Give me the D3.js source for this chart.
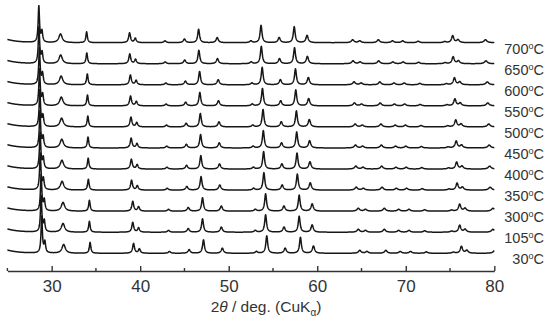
<!DOCTYPE html>
<html>
<head>
<meta charset="utf-8">
<script src="https://cdn.jsdelivr.net/npm/d3@7"></script>
<style>
  body { margin: 0; background: #fff; }
  text { font-family: "Liberation Sans", Arial, sans-serif; fill: #333; }
</style>
</head>
<body>
<div id="xrd"></div>
<script>
// temperatures, bottom trace first
var temps = ["30", "105", "300", "350", "400", "450", "500", "550", "600", "650", "700"];
// peak shift (deg 2theta, measured at 76 deg) relative to the 700 C pattern
var shifts = [1.0, 0.8, 0.8, 0.5, 0.45, 0.4, 0.35, 0.25, 0.2, 0.05, 0.0];
// reflections of the 700 C pattern: position, relative intensity, FWHM
var peakPos = [28.55, 28.9, 31.0, 33.95, 38.8, 39.45, 42.8, 45.0, 46.6, 48.7, 52.5, 53.65, 55.7,
  57.4, 58.85, 64.0, 64.8, 66.9, 68.5, 69.65, 71.4, 74.4, 75.3, 75.9, 79.0];
var peakInt = [100, 30, 24, 30, 27, 12, 5, 10, 37, 14, 5, 48, 14,
  44, 20, 8, 5, 8, 5, 5, 4, 3, 19, 8, 8];
var peakFwhm = [0.18, 0.2, 0.45, 0.2, 0.25, 0.25, 0.3, 0.3, 0.25, 0.3, 0.3, 0.25, 0.3,
  0.25, 0.3, 0.35, 0.35, 0.35, 0.35, 0.35, 0.35, 0.35, 0.3, 0.35, 0.4];
var xTicks = [30, 40, 50, 60, 70, 80];
var xMinor = [25, 35, 45, 55, 65, 75];

var w = 550, h = 321;
var offset = 58; // vertical offset between patterns (intensity units)

var svg = d3.select("#xrd").append("svg").attr("width", w).attr("height", h);

var x = d3.scaleLinear().domain([25, 80]).range([7.4, 494.3]);
var y = d3.scaleLinear().domain([0, offset * 10]).range([253.3, 42.7]);

// build a pattern from the reflection table
function pattern(k) {
  var s = shifts[k] / Math.tan(38 * Math.PI / 180);
  var pts = [];
  for (var t = 25; t <= 80.0001; t += 0.02) {
    var v = 9 * Math.exp(-(t - 25) / 1.3);
    for (var j = 0; j < peakPos.length; j++) {
      var p = peakPos[j] + s * Math.tan(peakPos[j] / 2 * Math.PI / 180);
      var g = peakFwhm[j] / 2;
      v += peakInt[j] * g * g / ((t - p) * (t - p) + g * g);
    }
    pts.push([t, v + k * offset]);
  }
  return pts;
}

var line = d3.line().x(d => x(d[0])).y(d => y(d[1]));

svg.append("g").selectAll("path")
  .data(temps)
  .enter()
  .append("path")
  .attr("d", (d, i) => line(pattern(i)))
  .attr("fill", "none")
  .attr("stroke", "#161616")
  .attr("stroke-width", 1.5)
  .attr("stroke-linejoin", "round");

// temperature labels
var lab = svg.append("g").selectAll("text")
  .data(temps)
  .enter()
  .append("text")
  .attr("x", 544)
  .attr("y", (d, i) => y(i * offset) + 11)
  .attr("text-anchor", "end")
  .style("font-size", "14.5px");
lab.append("tspan").text(d => d);
lab.append("tspan").attr("dy", -5).style("font-size", "9px").text("o");
lab.append("tspan").attr("dy", 5).text("C");

// x axis, ticks pointing inward
var axisY = 271;
var ax = svg.append("g").attr("transform", `translate(0,${axisY})`)
  .call(d3.axisBottom(x).tickValues(xTicks).tickSizeInner(-5).tickSizeOuter(0).tickPadding(9));
ax.select(".domain").attr("stroke", "#333").attr("stroke-width", 1.4);
ax.selectAll(".tick line").attr("stroke", "#333").attr("stroke-width", 1.4);
ax.selectAll(".tick text").style("font-size", "17px").style("font-family", "Liberation Sans, Arial, sans-serif").attr("fill", "#333");

ax.selectAll(".minor")
  .data(xMinor)
  .enter()
  .append("line")
  .attr("class", "minor")
  .attr("x1", d => x(d)).attr("x2", d => x(d))
  .attr("y1", 0).attr("y2", -3)
  .attr("stroke", "#333").attr("stroke-width", 1.4);

// axis title
var title = svg.append("text")
  .attr("x", 266)
  .attr("y", 312)
  .attr("text-anchor", "middle")
  .style("font-size", "15.5px");
title.append("tspan").text("2");
title.append("tspan").style("font-style", "italic").text("θ");
title.append("tspan").text(" / deg. (CuK");
title.append("tspan").attr("dy", 4).style("font-size", "10px").text("α");
title.append("tspan").attr("dy", -4).text(")");
</script>
</body>
</html>
